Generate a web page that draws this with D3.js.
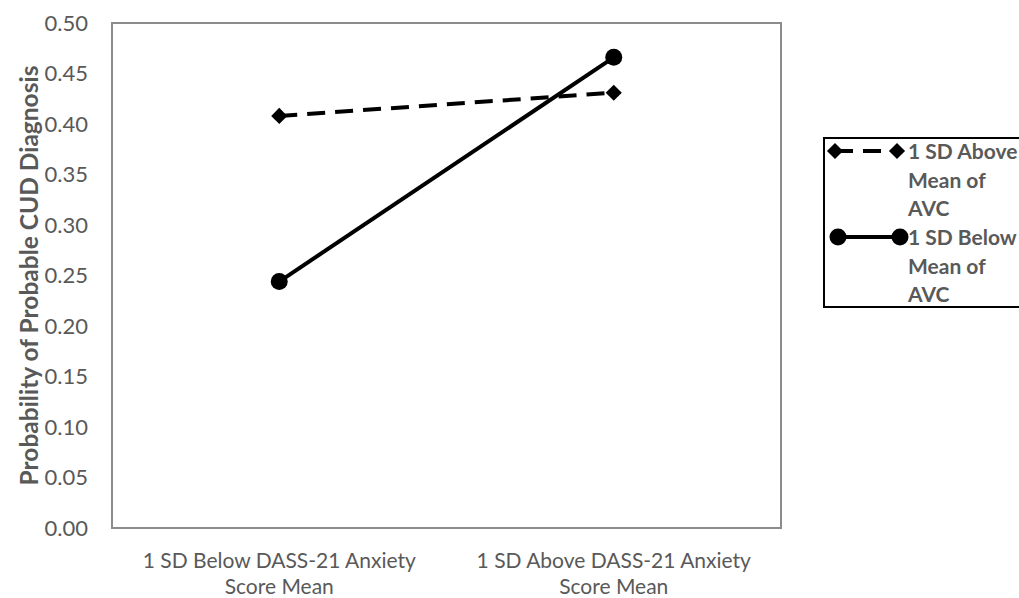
<!DOCTYPE html>
<html>
<head>
<meta charset="utf-8">
<script src="https://cdn.jsdelivr.net/npm/d3@7"></script>
<style>
  html, body { margin: 0; padding: 0; background: #fff; }
  svg { display: block; }
  text { font-family: Lato, "Open Sans", sans-serif; }
</style>
</head>
<body>
<svg id="chart" width="1019" height="598"></svg>
<script>
// ---- data ----
const categories = ["1 SD Below DASS-21 Anxiety Score Mean", "1 SD Above DASS-21 Anxiety Score Mean"];
const categoryLines = [["1 SD Below DASS-21 Anxiety", "Score Mean"], ["1 SD Above DASS-21 Anxiety", "Score Mean"]];
const seriesNames = ["1 SD Above Mean of AVC", "1 SD Below Mean of AVC"];
const legendLines = [["1 SD Above", "Mean of", "AVC"], ["1 SD Below", "Mean of", "AVC"]];
const aboveAVC = [0.408, 0.431];
const belowAVC = [0.244, 0.466];
const yTicks = [0, 0.05, 0.10, 0.15, 0.20, 0.25, 0.30, 0.35, 0.40, 0.45, 0.50];
const yTitle = "Probability of Probable CUD Diagnosis";

// ---- layout ----
const svg = d3.select("#chart");
const plot = { left: 112, right: 781, top: 23, bottom: 528 };
const textColor = "#595959";

const x = d3.scaleBand().domain(categories).range([plot.left, plot.right]).padding(0);
const y = d3.scaleLinear().domain([0, 0.5]).range([plot.bottom, plot.top]);
const cx = c => x(c) + x.bandwidth() / 2;

// plot border
svg.append("rect")
  .attr("x", plot.left).attr("y", plot.top)
  .attr("width", plot.right - plot.left).attr("height", plot.bottom - plot.top)
  .attr("fill", "none").attr("stroke", "#8c8c8c").attr("stroke-width", 2);

// y axis
const yAxis = d3.axisLeft(y).tickValues(yTicks).tickFormat(d3.format(".2f")).tickSize(0).tickPadding(24);
const yg = svg.append("g").attr("transform", `translate(${plot.left},0)`).call(yAxis);
yg.select(".domain").remove();
yg.selectAll("text").attr("fill", textColor).style("font-size", "22px").style("font-family", "Lato, 'Open Sans', sans-serif");

// x axis
const xAxis = d3.axisBottom(x).tickSize(0).tickFormat(() => "");
const xg = svg.append("g").attr("transform", `translate(0,${plot.bottom})`).call(xAxis);
xg.select(".domain").remove();
xg.selectAll(".tick").each(function(d, i) {
  const t = d3.select(this).append("text")
    .attr("fill", textColor).attr("text-anchor", "middle")
    .style("font-size", "21px");
  categoryLines[i].forEach((ln, j) => {
    t.append("tspan").attr("x", 0).attr("y", 40 + j * 26).text(ln);
  });
});

// y title
svg.append("text")
  .attr("transform", `translate(38,${(plot.top + plot.bottom) / 2}) rotate(-90)`)
  .attr("text-anchor", "middle")
  .attr("fill", textColor)
  .style("font-size", "24.5px").style("font-weight", "bold")
  .text(yTitle);

// series
const series = [
  { name: seriesNames[0], values: aboveAVC, dash: "18,10", marker: "diamond" },
  { name: seriesNames[1], values: belowAVC, dash: null, marker: "circle" }
];
const line = d3.line().x((d, i) => cx(categories[i])).y(d => y(d));

function drawMarker(g, type, px, py) {
  if (type === "circle") {
    g.append("circle").attr("cx", px).attr("cy", py).attr("r", 8.5).attr("fill", "#000");
  } else {
    g.append("path").attr("d", d3.symbol().type(d3.symbolSquare).size(130)())
      .attr("transform", `translate(${px},${py}) rotate(45)`).attr("fill", "#000");
  }
}

series.forEach(s => {
  svg.append("path").datum(s.values)
    .attr("d", line).attr("fill", "none").attr("stroke", "#000")
    .attr("stroke-width", 4)
    .attr("stroke-dasharray", s.dash);
  const g = svg.append("g");
  s.values.forEach((v, i) => drawMarker(g, s.marker, cx(categories[i]), y(v)));
});

// legend
const lg = svg.append("g");
lg.append("rect").attr("x", 824).attr("y", 138).attr("width", 210).attr("height", 169)
  .attr("fill", "#fff").attr("stroke", "#000").attr("stroke-width", 2);
series.forEach((s, k) => {
  const ly = 151 + k * 86;
  lg.append("line").attr("x1", 835).attr("x2", 898).attr("y1", ly).attr("y2", ly)
    .attr("stroke", "#000").attr("stroke-width", 4).attr("stroke-dasharray", s.dash);
  drawMarker(lg, s.marker, k === 0 ? 835 : 838, ly);
  drawMarker(lg, s.marker, k === 0 ? 897 : 900, ly);
  const t = lg.append("text").attr("fill", textColor)
    .style("font-size", "21px").style("font-weight", "bold");
  legendLines[k].forEach((ln, j) => {
    t.append("tspan").attr("x", 908).attr("y", ly + 8 + j * 28.6).text(ln);
  });
});
</script>
</body>
</html>
